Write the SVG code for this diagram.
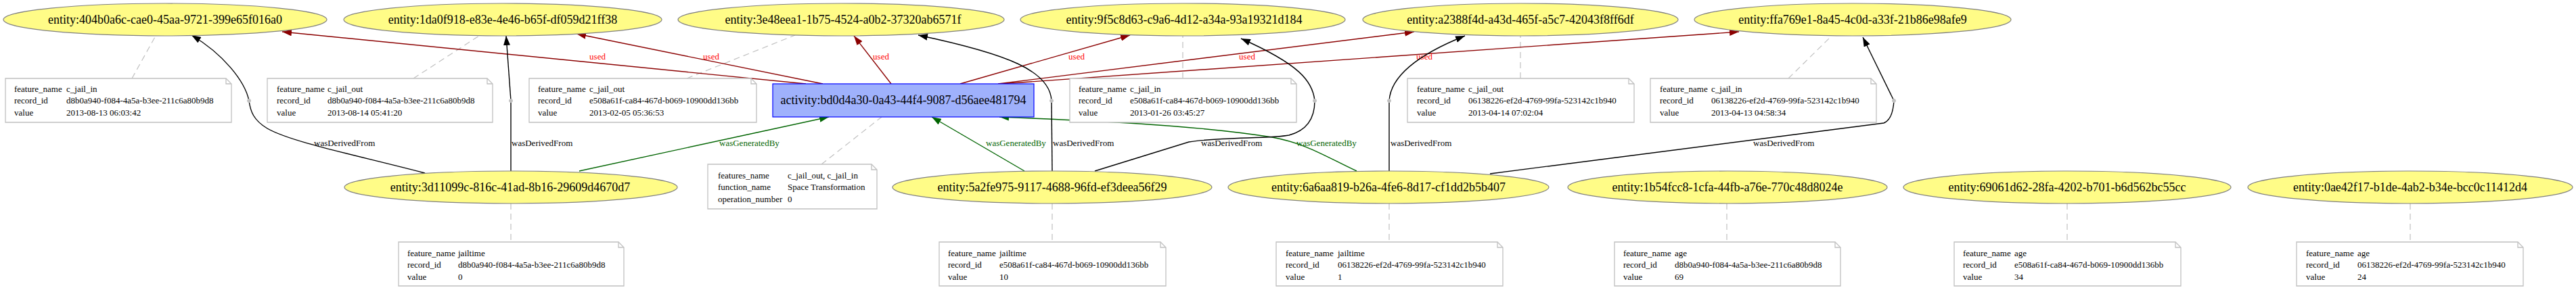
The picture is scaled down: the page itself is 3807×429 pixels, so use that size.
<svg xmlns="http://www.w3.org/2000/svg" width="3807" height="429" viewBox="0 0 3807 429">
<style>
.ent{fill:#fffc87;stroke:#808080;stroke-width:1.2}
.act{fill:#9fb1fc;stroke:#0000ff;stroke-width:1.2}
.note{fill:#ffffff;stroke:#c0c0c0;stroke-width:1.3}
.fold{fill:none;stroke:#c0c0c0;stroke-width:1.3}
.lbl{font-family:"Liberation Serif","Times New Roman",serif;font-size:18px;fill:#000;text-anchor:middle}
.nt{font-family:"Liberation Serif","Times New Roman",serif;font-size:13px;fill:#000}
.ann{stroke:#c0c0c0;stroke-width:1.2;stroke-dasharray:9,6;fill:none}
.used{stroke:#8b0000;stroke-width:1.4;fill:none;marker-end:url(#aRed)}
.gen{stroke:#006400;stroke-width:1.4;fill:none;marker-end:url(#aGreen)}
.der{stroke:#000;stroke-width:1.4;fill:none}
.derA{stroke:#000;stroke-width:1.4;fill:none;marker-end:url(#aBlack)}
.el{font-family:"Liberation Serif","Times New Roman",serif;font-size:13px}
.eu{fill:#ff0000;text-anchor:middle}
.eg{fill:#006400}
.ed{fill:#000}
.dot{fill:#c0c0c0;stroke:#c0c0c0}
</style>
<defs>
<marker id="aRed" viewBox="0 0 14 10" refX="14" refY="5" markerWidth="14" markerHeight="10" orient="auto" markerUnits="userSpaceOnUse"><path d="M0,0 L14,5 L0,10 z" fill="#8b0000"/></marker>
<marker id="aGreen" viewBox="0 0 14 10" refX="14" refY="5" markerWidth="14" markerHeight="10" orient="auto" markerUnits="userSpaceOnUse"><path d="M0,0 L14,5 L0,10 z" fill="#006400"/></marker>
<marker id="aBlack" viewBox="0 0 14 10" refX="14" refY="5" markerWidth="14" markerHeight="10" orient="auto" markerUnits="userSpaceOnUse"><path d="M0,0 L14,5 L0,10 z" fill="#000"/></marker>
</defs>
<rect x="0" y="0" width="3807" height="429" fill="#ffffff"/>

<g id="connectors">
<!-- annotation links -->
<line class="ann" x1="195" y1="116" x2="230" y2="53"/>
<line class="ann" x1="611" y1="116" x2="708" y2="53"/>
<line class="ann" x1="1015" y1="116" x2="1175" y2="52"/>
<line class="ann" x1="1748" y1="116" x2="1748" y2="53"/>
<line class="ann" x1="2247" y1="116" x2="2247" y2="53"/>
<line class="ann" x1="2643" y1="116" x2="2707" y2="53"/>
<line class="ann" x1="1214" y1="243" x2="1303" y2="173"/>
<line class="ann" x1="755" y1="301" x2="755" y2="358"/>
<line class="ann" x1="1555" y1="301" x2="1555" y2="358"/>
<line class="ann" x1="2053" y1="301" x2="2053" y2="358"/>
<line class="ann" x1="2552" y1="301" x2="2552" y2="358"/>
<line class="ann" x1="3055" y1="301" x2="3055" y2="358"/>
<line class="ann" x1="3562" y1="301" x2="3562" y2="358"/>

<!-- used -->
<path class="used" d="M1191,124 L417,47"/>
<path class="used" d="M1216,124 L852,50"/>
<path class="used" d="M1317,124 L1262,53"/>
<path class="used" d="M1419,124 L1670,52"/>
<path class="used" d="M1475,124 L2090,47"/>
<path class="used" d="M1480,124 L2570,47"/>
<text class="el eu" x="883" y="88">used</text>
<text class="el eu" x="1051" y="88">used</text>
<text class="el eu" x="1302" y="88">used</text>
<text class="el eu" x="1591" y="88">used</text>
<text class="el eu" x="1843" y="88">used</text>
<text class="el eu" x="2105" y="88">used</text>

<!-- wasGeneratedBy -->
<path class="gen" d="M856,253 L1225,173"/>
<path class="gen" d="M1514,253 L1377,173"/>
<path class="gen" d="M2005,253 C1960,232 1930,212 1880,203 C1760,184 1600,178 1477,173"/>
<text class="el eg" x="1063" y="216">wasGeneratedBy</text>
<text class="el eg" x="1457" y="216">wasGeneratedBy</text>
<text class="el eg" x="1916" y="216">wasGeneratedBy</text>

<!-- wasDerivedFrom -->
<path class="der" d="M628,256 C520,228 430,210 395,190 C375,178 370,165 368,149"/>
<path class="derA" d="M368,149 C362,120 330,80 283,52"/>
<path class="der" d="M755,253 L755,149"/>
<path class="derA" d="M755,149 L748,53"/>
<path class="der" d="M1555,253 L1554,149"/>
<path class="derA" d="M1554,149 C1552,105 1490,80 1357,52"/>
<path class="der" d="M1618,253 L1757,210 C1800,203 1880,205 1905,200 C1935,192 1943,170 1943,149"/>
<path class="derA" d="M1943,149 C1940,120 1920,95 1834,57"/>
<path class="der" d="M2053,253 L2053,149"/>
<path class="derA" d="M2053,149 C2055,118 2085,85 2165,53"/>
<path class="der" d="M2202,257 L2784,182 C2794,178 2798,165 2799,149"/>
<path class="derA" d="M2799,149 L2753,55"/>
<circle class="dot" cx="368" cy="149" r="2.5"/>
<circle class="dot" cx="755" cy="149" r="2.5"/>
<circle class="dot" cx="1554" cy="149" r="2.5"/>
<circle class="dot" cx="1943" cy="149" r="2.5"/>
<circle class="dot" cx="2053" cy="149" r="2.5"/>
<circle class="dot" cx="2799" cy="149" r="2.5"/>
<text class="el ed" x="464" y="216">wasDerivedFrom</text>
<text class="el ed" x="756" y="216">wasDerivedFrom</text>
<text class="el ed" x="1556" y="216">wasDerivedFrom</text>
<text class="el ed" x="1775" y="216">wasDerivedFrom</text>
<text class="el ed" x="2055" y="216">wasDerivedFrom</text>
<text class="el ed" x="2591" y="216">wasDerivedFrom</text>
</g>

<!-- top entities -->
<g id="e404b0a6c"><ellipse class="ent" cx="244" cy="29" rx="239" ry="24"/><text class="lbl" x="244" y="35">entity:404b0a6c-cae0-45aa-9721-399e65f016a0</text></g>
<g id="e1da0f918"><ellipse class="ent" cx="743" cy="29" rx="235" ry="24"/><text class="lbl" x="743" y="35">entity:1da0f918-e83e-4e46-b65f-df059d21ff38</text></g>
<g id="e3e48eea1"><ellipse class="ent" cx="1243" cy="29" rx="241" ry="24"/><text class="lbl" x="1246" y="35">entity:3e48eea1-1b75-4524-a0b2-37320ab6571f</text></g>
<g id="e9f5c8d63"><ellipse class="ent" cx="1748" cy="29" rx="240" ry="24"/><text class="lbl" x="1750" y="35">entity:9f5c8d63-c9a6-4d12-a34a-93a19321d184</text></g>
<g id="ea2388f4d"><ellipse class="ent" cx="2247" cy="29" rx="233" ry="24"/><text class="lbl" x="2247" y="35">entity:a2388f4d-a43d-465f-a5c7-42043f8ff6df</text></g>
<g id="effa769e1"><ellipse class="ent" cx="2738" cy="29" rx="234" ry="24"/><text class="lbl" x="2738" y="35">entity:ffa769e1-8a45-4c0d-a33f-21b86e98afe9</text></g>

<!-- top notes -->
<g id="n1"><path class="note" d="M8,116 H334 L342,124 V181 H8 Z"/><path class="fold" d="M334,116 V124 H342"/>
<text class="nt" x="21" y="135.5">feature_name</text><text class="nt" x="98" y="135.5">c_jail_in</text>
<text class="nt" x="21" y="153">record_id</text><text class="nt" x="98" y="153">d8b0a940-f084-4a5a-b3ee-211c6a80b9d8</text>
<text class="nt" x="21" y="170.5">value</text><text class="nt" x="98" y="170.5">2013-08-13 06:03:42</text></g>
<g id="n2"><path class="note" d="M395,116 H720 L728,124 V181 H395 Z"/><path class="fold" d="M720,116 V124 H728"/>
<text class="nt" x="409" y="135.5">feature_name</text><text class="nt" x="484" y="135.5">c_jail_out</text>
<text class="nt" x="409" y="153">record_id</text><text class="nt" x="484" y="153">d8b0a940-f084-4a5a-b3ee-211c6a80b9d8</text>
<text class="nt" x="409" y="170.5">value</text><text class="nt" x="484" y="170.5">2013-08-14 05:41:20</text></g>
<g id="n3"><path class="note" d="M782,116 H1110 L1118,124 V181 H782 Z"/><path class="fold" d="M1110,116 V124 H1118"/>
<text class="nt" x="795" y="135.5">feature_name</text><text class="nt" x="871" y="135.5">c_jail_out</text>
<text class="nt" x="795" y="153">record_id</text><text class="nt" x="871" y="153">e508a61f-ca84-467d-b069-10900dd136bb</text>
<text class="nt" x="795" y="170.5">value</text><text class="nt" x="871" y="170.5">2013-02-05 05:36:53</text></g>
<g id="n4"><path class="note" d="M1581,116 H1908 L1916,124 V181 H1581 Z"/><path class="fold" d="M1908,116 V124 H1916"/>
<text class="nt" x="1594" y="135.5">feature_name</text><text class="nt" x="1670" y="135.5">c_jail_in</text>
<text class="nt" x="1594" y="153">record_id</text><text class="nt" x="1670" y="153">e508a61f-ca84-467d-b069-10900dd136bb</text>
<text class="nt" x="1594" y="170.5">value</text><text class="nt" x="1670" y="170.5">2013-01-26 03:45:27</text></g>
<g id="n5"><path class="note" d="M2080,116 H2407 L2415,124 V181 H2080 Z"/><path class="fold" d="M2407,116 V124 H2415"/>
<text class="nt" x="2094" y="135.5">feature_name</text><text class="nt" x="2170" y="135.5">c_jail_out</text>
<text class="nt" x="2094" y="153">record_id</text><text class="nt" x="2170" y="153">06138226-ef2d-4769-99fa-523142c1b940</text>
<text class="nt" x="2094" y="170.5">value</text><text class="nt" x="2170" y="170.5">2013-04-14 07:02:04</text></g>
<g id="n6"><path class="note" d="M2439,116 H2765 L2773,124 V181 H2439 Z"/><path class="fold" d="M2765,116 V124 H2773"/>
<text class="nt" x="2453" y="135.5">feature_name</text><text class="nt" x="2529" y="135.5">c_jail_in</text>
<text class="nt" x="2453" y="153">record_id</text><text class="nt" x="2529" y="153">06138226-ef2d-4769-99fa-523142c1b940</text>
<text class="nt" x="2453" y="170.5">value</text><text class="nt" x="2529" y="170.5">2013-04-13 04:58:34</text></g>

<!-- activity -->
<g id="activity"><rect class="act" x="1142" y="124" width="386" height="49"/><text class="lbl" x="1335" y="154">activity:bd0d4a30-0a43-44f4-9087-d56aee481794</text></g>
<g id="nact"><path class="note" d="M1046,243 H1288 L1296,251 V309 H1046 Z"/><path class="fold" d="M1288,243 V251 H1296"/>
<text class="nt" x="1061" y="263.5">features_name</text><text class="nt" x="1164" y="263.5">c_jail_out, c_jail_in</text>
<text class="nt" x="1061" y="281">function_name</text><text class="nt" x="1164" y="281">Space Transformation</text>
<text class="nt" x="1061" y="298.5">operation_number</text><text class="nt" x="1164" y="298.5">0</text></g>

<!-- bottom entities -->
<g id="e3d11099c"><ellipse class="ent" cx="755" cy="277" rx="246" ry="24"/><text class="lbl" x="754" y="283">entity:3d11099c-816c-41ad-8b16-29609d4670d7</text></g>
<g id="e5a2fe975"><ellipse class="ent" cx="1555" cy="277" rx="236" ry="24"/><text class="lbl" x="1555" y="283">entity:5a2fe975-9117-4688-96fd-ef3deea56f29</text></g>
<g id="e6a6aa819"><ellipse class="ent" cx="2052" cy="277" rx="237" ry="24"/><text class="lbl" x="2052" y="283">entity:6a6aa819-b26a-4fe6-8d17-cf1dd2b5b407</text></g>
<g id="e1b54fcc8"><ellipse class="ent" cx="2553" cy="277" rx="236" ry="24"/><text class="lbl" x="2553" y="283">entity:1b54fcc8-1cfa-44fb-a76e-770c48d8024e</text></g>
<g id="e69061d62"><ellipse class="ent" cx="3055" cy="277" rx="242" ry="24"/><text class="lbl" x="3055" y="283">entity:69061d62-28fa-4202-b701-b6d562bc55cc</text></g>
<g id="e0ae42f17"><ellipse class="ent" cx="3562" cy="277" rx="240" ry="24"/><text class="lbl" x="3562" y="283">entity:0ae42f17-b1de-4ab2-b34e-bcc0c11412d4</text></g>

<!-- bottom notes -->
<g id="bn1"><path class="note" d="M589,358 H914 L922,366 V423 H589 Z"/><path class="fold" d="M914,358 V366 H922"/>
<text class="nt" x="602" y="378.5">feature_name</text><text class="nt" x="677" y="378.5">jailtime</text>
<text class="nt" x="602" y="396">record_id</text><text class="nt" x="677" y="396">d8b0a940-f084-4a5a-b3ee-211c6a80b9d8</text>
<text class="nt" x="602" y="413.5">value</text><text class="nt" x="677" y="413.5">0</text></g>
<g id="bn2"><path class="note" d="M1388,358 H1715 L1723,366 V423 H1388 Z"/><path class="fold" d="M1715,358 V366 H1723"/>
<text class="nt" x="1401" y="378.5">feature_name</text><text class="nt" x="1477" y="378.5">jailtime</text>
<text class="nt" x="1401" y="396">record_id</text><text class="nt" x="1477" y="396">e508a61f-ca84-467d-b069-10900dd136bb</text>
<text class="nt" x="1401" y="413.5">value</text><text class="nt" x="1477" y="413.5">10</text></g>
<g id="bn3"><path class="note" d="M1886,358 H2213 L2221,366 V423 H1886 Z"/><path class="fold" d="M2213,358 V366 H2221"/>
<text class="nt" x="1900" y="378.5">feature_name</text><text class="nt" x="1977" y="378.5">jailtime</text>
<text class="nt" x="1900" y="396">record_id</text><text class="nt" x="1977" y="396">06138226-ef2d-4769-99fa-523142c1b940</text>
<text class="nt" x="1900" y="413.5">value</text><text class="nt" x="1977" y="413.5">1</text></g>
<g id="bn4"><path class="note" d="M2386,358 H2712 L2720,366 V423 H2386 Z"/><path class="fold" d="M2712,358 V366 H2720"/>
<text class="nt" x="2399" y="378.5">feature_name</text><text class="nt" x="2475" y="378.5">age</text>
<text class="nt" x="2399" y="396">record_id</text><text class="nt" x="2475" y="396">d8b0a940-f084-4a5a-b3ee-211c6a80b9d8</text>
<text class="nt" x="2399" y="413.5">value</text><text class="nt" x="2475" y="413.5">69</text></g>
<g id="bn5"><path class="note" d="M2888,358 H3215 L3223,366 V423 H2888 Z"/><path class="fold" d="M3215,358 V366 H3223"/>
<text class="nt" x="2901" y="378.5">feature_name</text><text class="nt" x="2977" y="378.5">age</text>
<text class="nt" x="2901" y="396">record_id</text><text class="nt" x="2977" y="396">e508a61f-ca84-467d-b069-10900dd136bb</text>
<text class="nt" x="2901" y="413.5">value</text><text class="nt" x="2977" y="413.5">34</text></g>
<g id="bn6"><path class="note" d="M3394,358 H3721 L3729,366 V423 H3394 Z"/><path class="fold" d="M3721,358 V366 H3729"/>
<text class="nt" x="3408" y="378.5">feature_name</text><text class="nt" x="3484" y="378.5">age</text>
<text class="nt" x="3408" y="396">record_id</text><text class="nt" x="3484" y="396">06138226-ef2d-4769-99fa-523142c1b940</text>
<text class="nt" x="3408" y="413.5">value</text><text class="nt" x="3484" y="413.5">24</text></g>
</svg>
